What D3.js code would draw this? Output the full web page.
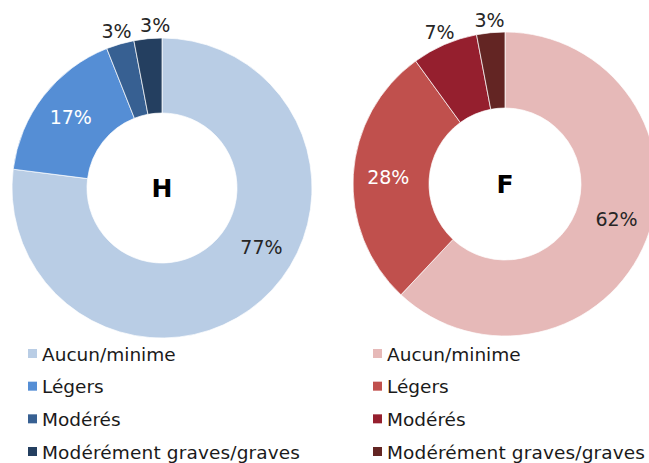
<!DOCTYPE html>
<html>
<head>
<meta charset="utf-8">
<script src="https://d3js.org/d3.v7.min.js"></script>
<style>
    body {
        margin: 0;
        background: #fff;
    }

    text {
        font-family: "DejaVu Sans", Verdana, sans-serif;
    }
</style>
</head>

<body>
</body>
<script>
    const width = 649,
        height = 463;

    const categories = ["Aucun/minime", "Légers", "Modérés", "Modérément graves/graves"];
    const hommes = [77, 17, 3, 3];
    const femmes = [62, 28, 7, 3];
    const bluePalette = ["#b9cde5", "#558ed5", "#376092", "#243f60"];
    const redPalette = ["#e6b9b8", "#c0504d", "#951f2e", "#632523"];

    const charts = [
        { title: "H", values: hommes, colors: bluePalette, cx: 162, cy: 188, r: 150, r0: 75, legendX: 28, shift: [-18, 0, 0, 3] },
        { title: "F", values: femmes, colors: redPalette, cx: 505, cy: 184, r: 152, r0: 76, legendX: 373, shift: [-4, 0, 0, 0] }
    ];

    const svg = d3.select("body").append("svg").attr("width", width).attr("height", height);

    const pie = d3.pie().sort(null).value(d => d);
    const toRad = Math.PI / 180;

    charts.forEach(c => {
        const g = svg.append("g").attr("transform", `translate(${c.cx},${c.cy})`);
        const arc = d3.arc().innerRadius(c.r0).outerRadius(c.r);
        const arcs = pie(c.values);

        g.selectAll("path")
            .data(arcs)
            .join("path")
            .attr("d", arc)
            .attr("fill", (d, i) => c.colors[i])
            .attr("stroke", "#fff")
            .attr("stroke-width", 0.7);

        // labels: inside the ring for big slices, just outside for small ones
        const labelPos = (d, i) => {
            const a = (d.startAngle + d.endAngle) / 2 + c.shift[i] * toRad;
            const rr = d.data < 10 ? c.r + 13 : (c.r0 + c.r) / 2 + 3;
            return [rr * Math.sin(a), -rr * Math.cos(a)];
        };
        g.selectAll("text.pct")
            .data(arcs)
            .join("text")
            .attr("class", "pct")
            .attr("text-anchor", "middle")
            .attr("dy", "0.36em")
            .attr("font-size", 19)
            .attr("fill", (d, i) => i == 1 ? "#fff" : "#262626")
            .attr("x", (d, i) => labelPos(d, i)[0])
            .attr("y", (d, i) => labelPos(d, i)[1])
            .text(d => d.data + "%");

        g.append("text")
            .attr("text-anchor", "middle")
            .attr("dy", "0.36em")
            .attr("font-size", 25)
            .attr("font-weight", "bold")
            .attr("fill", "#000")
            .text(c.title);

        // legend
        const legendY = d3.scalePoint()
            .domain(categories)
            .range([353.5, 451.5]);
        const lg = svg.append("g");
        lg.selectAll("rect")
            .data(categories)
            .join("rect")
            .attr("x", c.legendX)
            .attr("y", d => legendY(d) - 4.5)
            .attr("width", 9)
            .attr("height", 9)
            .attr("fill", (d, i) => c.colors[i]);
        lg.selectAll("text")
            .data(categories)
            .join("text")
            .attr("x", c.legendX + 14)
            .attr("y", d => legendY(d) + 7)
            .attr("font-size", 18.5)
            .attr("textLength", d => d.length > 20 ? 258 : null)
            .attr("fill", "#1a1a1a")
            .text(d => d);
    });
</script>

</html>
